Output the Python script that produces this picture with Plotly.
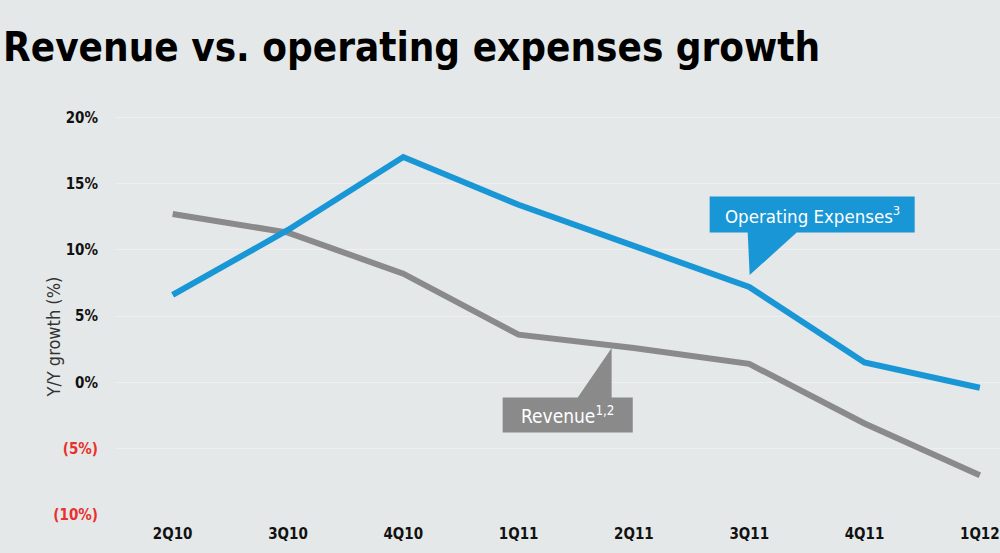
import plotly.graph_objects as go

quarters = ["2Q10", "3Q10", "4Q10", "1Q11", "2Q11", "3Q11", "4Q11", "1Q12"]
opex = [6.6, 11.5, 17.0, 13.4, 10.3, 7.2, 1.5, -0.4]
revenue = [12.7, 11.3, 8.2, 3.6, 2.6, 1.4, -3.1, -7.0]
y_ticks = [20, 15, 10, 5, 0, -5, -10]
y_tick_labels = ["20%", "15%", "10%", "5%", "0%",
                 "<span style='color:#e8312f'>(5%)</span>",
                 "<span style='color:#e8312f'>(10%)</span>"]

BLUE = "#1996d6"
GRAY = "#8a8a8a"
BG = "#e5e8e8"
FONT = "DejaVu Sans Condensed, Liberation Sans Narrow, Roboto, sans-serif"

W, H = 1000, 553
ML, MR, MT, MB = 115, 0, 104, 38
PW, PH = W - ML - MR, H - MT - MB


def px_x(px):
    return (px - ML) / PW


def px_y(py):
    return (H - MB - py) / PH


fig = go.Figure()
fig.add_trace(go.Scatter(x=quarters, y=revenue, mode="lines", name="Revenue",
                         line=dict(color=GRAY, width=6)))
fig.add_trace(go.Scatter(x=quarters, y=opex, mode="lines", name="Operating Expenses",
                         line=dict(color=BLUE, width=6)))

# callouts (data coordinates: x = category index, y = %)
rev_callout = "M 2.862,-1.13 L 3.513,-1.13 L 3.807,2.6 L 3.807,-1.13 L 3.99,-1.13 L 3.99,-3.77 L 2.862,-3.77 Z"
opex_callout = "M 4.657,14.02 L 6.435,14.02 L 6.435,11.3 L 5.412,11.3 L 5.004,8.1 L 4.987,11.3 L 4.657,11.3 Z"
fig.add_shape(type="path", path=rev_callout, xref="x", yref="y",
              fillcolor=GRAY, line=dict(width=0), layer="above")
fig.add_shape(type="path", path=opex_callout, xref="x", yref="y",
              fillcolor=BLUE, line=dict(width=0), layer="above")
fig.add_annotation(x=3.426, y=-2.45, xref="x", yref="y", text="Revenue<sup>1,2</sup>",
                   showarrow=False, font=dict(family=FONT, size=19, color="white"))
fig.add_annotation(x=5.546, y=12.66, xref="x", yref="y", text="Operating Expenses<sup>3</sup>",
                   showarrow=False, font=dict(family=FONT, size=18.5, color="white"))

fig.add_annotation(x=px_x(1), y=px_y(72), xref="paper", yref="paper",
                   text="<b>Revenue vs. operating expenses growth</b>",
                   showarrow=False, xanchor="left", yanchor="bottom",
                   font=dict(family=FONT, size=40, color="black"))
fig.add_annotation(x=px_x(40), y=px_y(337), xref="paper", yref="paper",
                   text="Y/Y growth (%)", showarrow=False, textangle=-90,
                   font=dict(family=FONT, size=18, color="#333333"))

fig.update_layout(
    width=W, height=H,
    paper_bgcolor=BG, plot_bgcolor=BG,
    margin=dict(l=ML, r=MR, t=MT, b=MB),
    showlegend=False,
    xaxis=dict(type="category", range=[-0.5, 7.175], showgrid=False, zeroline=False,
               showline=False, ticks="", ticklabelstandoff=8,
               tickfont=dict(family=FONT, size=15, color="#111111", weight="bold")),
    yaxis=dict(range=[-10, 21], tickvals=y_ticks, ticktext=y_tick_labels,
               showgrid=True, gridcolor="#eef0f0", gridwidth=1, zeroline=False,
               showline=False, ticks="", ticklabelstandoff=16,
               tickfont=dict(family=FONT, size=15, color="#111111", weight="bold")),
)

fig.write_html("out.html", config={"displayModeBar": False},
               post_script="document.body.style.margin='0';")
